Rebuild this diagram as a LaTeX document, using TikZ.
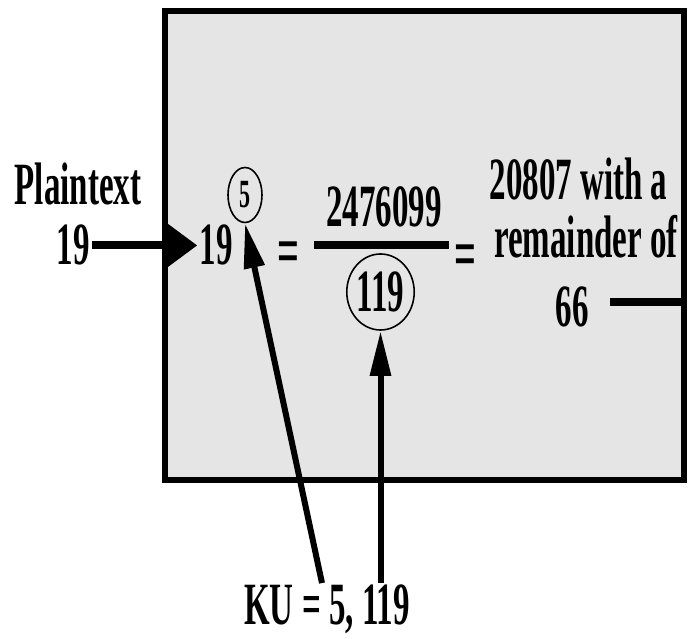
\documentclass[tikz,border=0pt]{standalone}
\usepackage{fontspec}
\setmainfont{Liberation Serif}
\usepackage{graphicx}
\usetikzlibrary{arrows.meta,positioning,shapes.geometric}
\newcommand{\squeeze}[1]{\scalebox{0.55}[1]{#1}}

\begin{document}
\begin{tikzpicture}[x=1pt,y=1pt,
      txt/.style={font=\fontsize{60}{66}\selectfont\bfseries,inner sep=2pt,anchor=base},
      eqsign/.style={txt,font=\fontsize{70}{76}\selectfont\bfseries},
      ring/.style={ellipse,draw,line width=1.6pt,inner sep=0pt,font=\fontsize{60}{66}\selectfont\bfseries},
      push arrow/.style={line width=8pt,-{Triangle[length=30pt,width=42pt]}},
      key arrow/.style={line width=6pt,-{Triangle[length=45pt,width=20pt]}}]
      \useasboundingbox (0,0) rectangle (688,639);
      \node[draw,line width=6pt,fill=black!10,minimum width=519pt,minimum height=469pt] (box) at (424.75,393.5) {};

      \node[txt] (plain) at (78,434) {\squeeze{Plaintext}};
      \node[txt] (p19) at (73,374) {\squeeze{19}};
      \node[txt] (b19) at (216,374) {\squeeze{19}};
      \node[ring,minimum width=34pt,minimum height=55pt,font=\fontsize{40}{44}\selectfont\bfseries] (five) at (245,444) {\squeeze{5}};
      \node[eqsign] (eq1) at (288,364) {\squeeze{=}};
      \node[txt] (num) at (384,412) {\squeeze{2476099}};
      \node[ring,minimum width=65pt,minimum height=76pt] (n119) at (380.5,347) {\squeeze{119}};
      \node[eqsign] (eq2) at (465,361) {\squeeze{=}};
      \node[txt] (res1) at (578.5,439) {\squeeze{20807 with a}};
      \node[txt] (res2) at (586,381) {\squeeze{remainder of}};
      \node[txt] (n66) at (572,312) {\squeeze{66}};
      \node[txt] (ku) at (327,14) {\squeeze{KU = 5, 119}};

      % fraction bar
      \draw[line width=8pt] (314,394) -- (449,394);

      \draw[push arrow] (p19.east) -- (b19.west);
      \draw[line width=8pt,shorten <=19pt] ([yshift=5pt]n66.east) -- ([yshift=5pt]n66.east -| box.east);
      \draw[key arrow] ([xshift=-5pt]ku.north) -- (five.south);
      \draw[key arrow] (ku.north -| n119.south) -- (n119.south);
    \end{tikzpicture}
\end{document}
